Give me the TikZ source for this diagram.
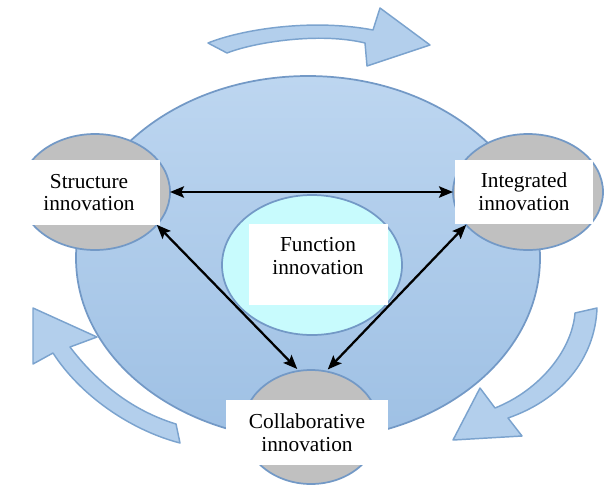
\documentclass[tikz,border=0pt]{standalone}
\usepackage{fontspec}
\setmainfont{Liberation Serif}
\usetikzlibrary{shapes.geometric,arrows.meta}
\definecolor{bluefillA}{HTML}{BDD6F0}
\definecolor{bluefillB}{HTML}{9EC0E4}
\definecolor{edgeblue}{HTML}{7399C6}
\definecolor{grayfill}{HTML}{C0C0C0}
\definecolor{cyanfill}{HTML}{C8FBFD}
\definecolor{arrowfill}{HTML}{B3CFEC}
\definecolor{arrowedge}{HTML}{7BA3CE}
\begin{document}
\begin{tikzpicture}[x=0.75pt,y=-0.75pt,
  blob/.style={ellipse,draw=edgeblue,line width=1.3pt,inner sep=0pt,outer sep=0pt},
  labelbox/.style={fill=white,inner sep=0pt,align=center,font=\fontsize{16}{17}\selectfont},
  link/.style={line width=1.7pt,{Stealth[length=10.5pt,width=8.5pt,inset=2pt]}-{Stealth[length=10.5pt,width=8.5pt,inset=2pt]}},
  cyc/.style={fill=arrowfill,draw=arrowedge,line width=1.1pt,line join=round}]
\useasboundingbox (0,0) rectangle (605,486);

% cycle arrows
\draw[cyc] (208,43) .. controls (240,30) and (310,18) .. (373,30) -- (380,8) -- (430,45) -- (367,66) -- (365,43) .. controls (320,32) and (255,42) .. (227,53) -- cycle;
\draw[cyc] (33,308) -- (33,364) -- (53,353) .. controls (80,395) and (130,430) .. (180,443) -- (176,424) .. controls (130,410) and (95,380) .. (70,347) -- (97,337) -- cycle;
\draw[cyc] (575,313) .. controls (572,350) and (540,390) .. (495,408) -- (480,388) -- (453,440) -- (522,436) -- (508,418) .. controls (560,400) and (595,360) .. (597,308) -- cycle;

% main shapes
\node[blob,top color=bluefillA,bottom color=bluefillB,minimum width=348pt,minimum height=273pt] (hub) at (308,258) {};
\node[blob,fill=cyanfill,minimum width=135pt,minimum height=105pt] (fun) at (312,265) {};
\node[blob,fill=grayfill,minimum width=112.5pt,minimum height=87pt] (s) at (95,192) {};
\node[blob,fill=grayfill,minimum width=112.5pt,minimum height=87pt] (i) at (528,192) {};
\node[blob,fill=grayfill,minimum width=102pt,minimum height=85.5pt] (c) at (311,427) {};

% labels
\node[labelbox,minimum width=106.5pt,minimum height=48.75pt] (sbox) at (89,192.5) {Structure\\innovation};
\node[labelbox,minimum width=103.5pt,minimum height=48pt] (ibox) at (524,192) {Integrated\\innovation};
\node[labelbox,minimum width=104.25pt,minimum height=60.75pt] (fbox) at (318.5,264.5) {};
\node[inner sep=0pt,align=center,font=\fontsize{16}{17}\selectfont] (ftext) at (318,256) {Function\\innovation};
\node[labelbox,minimum width=121.5pt,minimum height=48.75pt] (cbox) at (307,432.5) {Collaborative\\innovation};

% links
\draw[link] (s.east) -- (i.west);
\draw[link,shorten >=2pt] (s.-28) -- (c.102);
\draw[link,shorten >=2pt] (i.208) -- (c.75);
\end{tikzpicture}
\end{document}
